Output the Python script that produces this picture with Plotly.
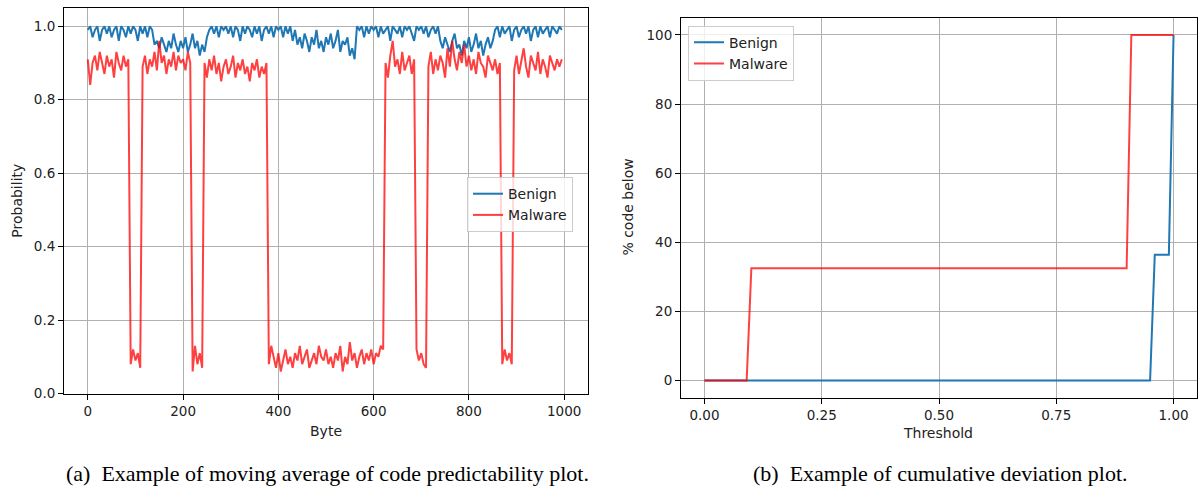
import plotly.graph_objects as go

# ---------------- data: left panel (moving average, sampled every 5 bytes) ----------------
byte_step = 5
benign_prob = [
    0.99, 1.0, 0.97, 0.99, 1.0, 0.96, 0.99, 1.0, 0.98, 1.0, 0.97, 0.99, 1.0, 0.96, 1.0, 0.99, 0.97, 1.0, 0.98, 1.0,
    0.99, 0.96, 1.0, 0.98, 1.0, 0.97, 1.0, 0.99, 0.95, 0.96, 0.94, 0.97, 0.95, 0.93, 0.96, 0.94, 0.98, 0.95, 0.93, 0.96,
    0.94, 0.97, 0.93, 0.95, 0.98, 0.94, 0.96, 0.92, 0.95, 0.93, 0.97, 0.99, 1.0, 0.98, 1.0, 0.97, 1.0, 0.99, 1.0, 0.98,
    1.0, 0.97, 1.0, 0.99, 0.96, 1.0, 0.98, 1.0, 0.99, 0.97, 1.0, 0.98, 1.0, 0.96, 0.99, 1.0, 0.98, 1.0, 0.97, 1.0,
    0.99, 1.0, 0.97, 1.0, 0.98, 1.0, 0.96, 0.99, 0.95, 0.97, 0.94, 0.98, 0.96, 0.93, 0.97, 0.95, 0.99, 0.94, 0.96, 0.93,
    0.97, 0.95, 0.98, 0.94, 0.96, 0.99, 0.93, 0.96, 0.95, 0.97, 0.92, 0.94, 0.91, 1.0, 0.99, 1.0, 0.97, 1.0, 0.98, 1.0,
    0.99, 1.0, 0.97, 1.0, 0.98, 0.99, 1.0, 0.96, 1.0, 0.99, 0.98, 1.0, 0.97, 1.0, 0.99, 1.0, 0.98, 0.96, 1.0, 0.99,
    1.0, 0.98, 1.0, 0.97, 0.99, 1.0, 0.98, 1.0, 0.96, 0.94, 0.97, 0.95, 0.93, 0.96, 0.98, 0.94, 0.95, 0.92, 0.96, 0.94,
    0.97, 0.93, 0.95, 0.98, 0.94, 0.96, 0.92, 0.95, 0.97, 0.94, 0.96, 0.99, 1.0, 0.97, 1.0, 0.98, 0.99, 1.0, 0.96, 0.99,
    1.0, 0.97, 0.99, 1.0, 0.98, 1.0, 0.96, 0.99, 1.0, 0.97, 1.0, 0.98, 0.99, 1.0, 0.97, 1.0, 0.99, 0.98, 1.0, 0.99,
]
malware_prob = [
    0.91, 0.84, 0.90, 0.92, 0.88, 0.93, 0.90, 0.87, 0.92, 0.89, 0.91, 0.86, 0.93, 0.90, 0.88, 0.92, 0.89, 0.91, 0.08, 0.12,
    0.09, 0.11, 0.07, 0.89, 0.92, 0.87, 0.91, 0.89, 0.93, 0.88, 0.96, 0.90, 0.92, 0.87, 0.91, 0.89, 0.93, 0.88, 0.92, 0.90,
    0.91, 0.88, 0.93, 0.90, 0.06, 0.13, 0.08, 0.11, 0.07, 0.90, 0.86, 0.91, 0.88, 0.92, 0.87, 0.90, 0.85, 0.89, 0.91, 0.87,
    0.89, 0.92, 0.86, 0.90, 0.88, 0.91, 0.87, 0.89, 0.85, 0.90, 0.88, 0.91, 0.86, 0.89, 0.87, 0.90, 0.08, 0.13, 0.10, 0.07,
    0.11, 0.06, 0.09, 0.12, 0.08, 0.10, 0.07, 0.11, 0.09, 0.13, 0.08, 0.10, 0.12, 0.07, 0.09, 0.11, 0.08, 0.13, 0.10, 0.09,
    0.12, 0.08, 0.10, 0.07, 0.11, 0.09, 0.13, 0.06, 0.10, 0.08, 0.14, 0.09, 0.11, 0.07, 0.10, 0.12, 0.08, 0.11, 0.09, 0.12,
    0.08, 0.11, 0.10, 0.13, 0.12, 0.90, 0.86, 0.92, 0.96, 0.89, 0.91, 0.87, 0.93, 0.88, 0.90, 0.92, 0.87, 0.91, 0.12, 0.09,
    0.11, 0.08, 0.07, 0.89, 0.93, 0.87, 0.91, 0.88, 0.92, 0.90, 0.86, 0.94, 0.89, 0.96, 0.91, 0.88, 0.93, 0.90, 0.95, 0.89,
    0.92, 0.88, 0.91, 0.87, 0.93, 0.90, 0.89, 0.86, 0.92, 0.90, 0.88, 0.91, 0.87, 0.90, 0.08, 0.12, 0.09, 0.11, 0.08, 0.88,
    0.92, 0.87, 0.91, 0.94, 0.89, 0.86, 0.92, 0.90, 0.88, 0.93, 0.87, 0.91, 0.89, 0.86, 0.92, 0.90, 0.88, 0.91, 0.89, 0.91,
]
byte_pos = [i * byte_step for i in range(len(benign_prob))]

# ---------------- data: right panel (cumulative deviation) ----------------
benign_thr = [0.0, 0.95, 0.96, 0.99, 1.0]
benign_pct = [0.0, 0.0, 36.4, 36.4, 100.0]
malware_thr = [0.0, 0.09, 0.10, 0.90, 0.91, 1.0]
malware_pct = [0.0, 0.0, 32.5, 32.5, 100.0, 100.0]

left_xticks = [0, 200, 400, 600, 800, 1000]
left_yticks = [0.0, 0.2, 0.4, 0.6, 0.8, 1.0]
right_xticks = [0.0, 0.25, 0.5, 0.75, 1.0]
right_yticks = [0, 20, 40, 60, 80, 100]

BLUE = "#1f77b4"
RED = "rgba(255,0,0,0.75)"
FONT = "DejaVu Sans"
W, H = 1200, 497
LW = 2

fig = go.Figure()
fig.add_trace(go.Scatter(x=byte_pos, y=benign_prob, mode="lines", name="Benign",
                         line=dict(color=BLUE, width=LW), xaxis="x", yaxis="y", legend="legend"))
fig.add_trace(go.Scatter(x=byte_pos, y=malware_prob, mode="lines", name="Malware",
                         line=dict(color=RED, width=LW), xaxis="x", yaxis="y", legend="legend"))
fig.add_trace(go.Scatter(x=benign_thr, y=benign_pct, mode="lines", name="Benign",
                         line=dict(color=BLUE, width=LW), xaxis="x2", yaxis="y2", legend="legend2"))
fig.add_trace(go.Scatter(x=malware_thr, y=malware_pct, mode="lines", name="Malware",
                         line=dict(color=RED, width=LW), xaxis="x2", yaxis="y2", legend="legend2"))

def px_x(p):
    return p / W

def px_y(p):
    return 1 - p / H

axis_common = dict(showline=True, linecolor="black", linewidth=1, mirror=True,
                   ticks="outside", ticklen=5, tickwidth=1, tickcolor="black",
                   showgrid=True, gridcolor="#b0b0b0", gridwidth=1, zeroline=False,
                   tickfont=dict(family=FONT, size=13.5, color="#222"))

legend_common = dict(xanchor="left", yanchor="top",
                     bgcolor="rgba(255,255,255,0.8)", bordercolor="#cccccc", borderwidth=1,
                     font=dict(family=FONT, size=14, color="#222"), itemwidth=30, tracegroupgap=0)

fig.update_layout(
    width=W, height=H, margin=dict(l=0, r=0, t=0, b=0),
    paper_bgcolor="white", plot_bgcolor="white",
    xaxis=dict(domain=[px_x(64), px_x(588)], range=[-50, 1050], tickvals=left_xticks,
               anchor="y", **axis_common),
    yaxis=dict(domain=[px_y(400), px_y(8)], range=[0, 1.05], tickvals=left_yticks,
               tickformat=".1f", anchor="x", **axis_common),
    xaxis2=dict(domain=[px_x(681), px_x(1197)], range=[-0.05, 1.05], tickvals=right_xticks,
                tickformat=".2f", anchor="y2", **axis_common),
    yaxis2=dict(domain=[px_y(404.3), px_y(18)], range=[-5, 105], tickvals=right_yticks,
                anchor="x2", **axis_common),
    legend=dict(x=px_x(467), y=px_y(180), **legend_common),
    legend2=dict(x=px_x(688), y=px_y(26), **legend_common),
    showlegend=True,
)

def ann(text, x, y, size=14, family=FONT, angle=0, color="#222"):
    fig.add_annotation(text=text, x=px_x(x), y=px_y(y), xref="paper", yref="paper",
                       showarrow=False, xanchor="center", yanchor="middle",
                       textangle=angle, font=dict(family=family, size=size, color=color))

ann("Byte", 326, 438)
ann("Probability", 17, 204, angle=-90)
ann("Threshold", 938, 440)
ann("% code below", 628, 211, angle=-90)
ann("(a)\u2002Example of moving average of code predictability plot.", 327, 481,
    size=22, family="Liberation Serif", color="black")
ann("(b)\u2002Example of cumulative deviation plot.", 940, 481,
    size=22, family="Liberation Serif", color="black")

fig.write_html("out.html")
